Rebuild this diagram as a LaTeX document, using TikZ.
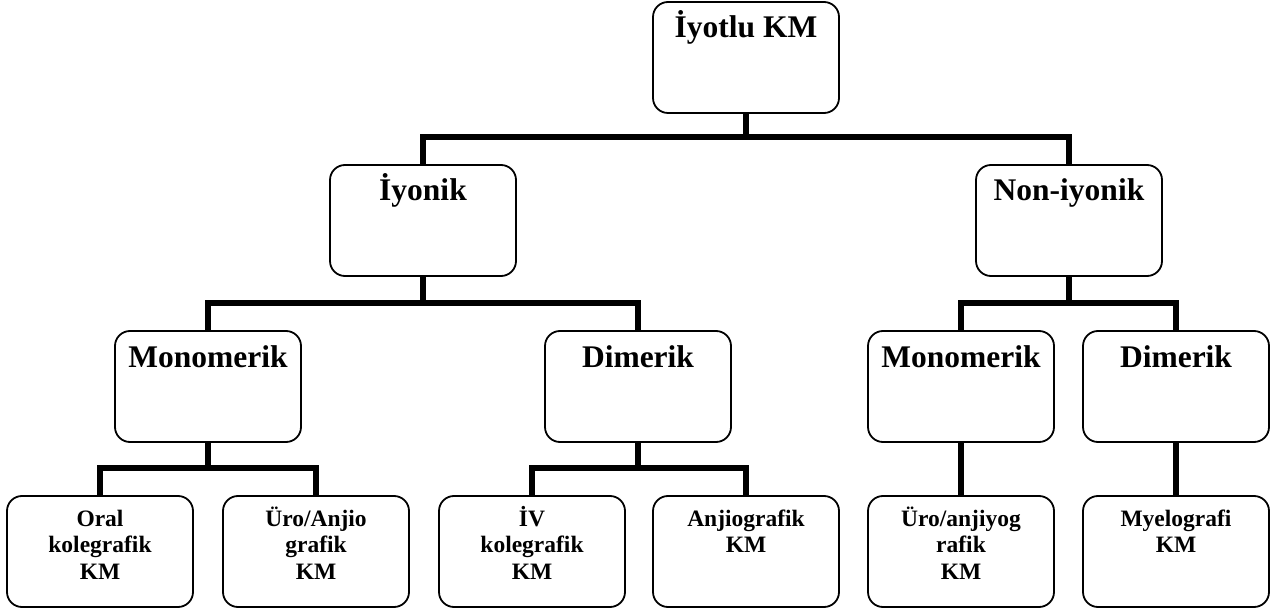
\documentclass[tikz,border=0pt]{standalone}
\usepackage{fontspec}
\setmainfont{Liberation Serif}
\newcommand\upperlabel[1]{\begin{minipage}[t][111pt][t]{186pt}\centering\fontsize{31.5}{35}\selectfont\bfseries\rule{0pt}{36pt}#1\end{minipage}}
\newcommand\lowerlabel[1]{\begin{minipage}[t][111pt][t]{186pt}\centering\fontsize{23.5}{26.5}\selectfont\bfseries\rule{0pt}{30pt}#1\end{minipage}}
\begin{document}
\begin{tikzpicture}[x=1pt,y=-1pt,
  box/.style={draw=black, line width=1.8pt, rounded corners=15pt, inner sep=0pt, outer sep=0pt, anchor=north west},
  conn/.style={draw=black, line width=5.5pt, line join=miter}]
\useasboundingbox (0,0) rectangle (1274,609);
% level 0
\node[box] (top) at (653,2) {\upperlabel{İyotlu KM}};
% level 1
\node[box] (iyonik) at (330,165) {\upperlabel{İyonik}};
\node[box] (noniyonik) at (976,165) {\upperlabel{Non-iyonik}};
% level 2
\node[box] (monoL) at (115,331) {\upperlabel{Monomerik}};
\node[box] (dimL) at (545,331) {\upperlabel{Dimerik}};
\node[box] (monoR) at (868,331) {\upperlabel{Monomerik}};
\node[box] (dimR) at (1083,331) {\upperlabel{Dimerik}};
% level 3
\node[box] (oral) at (7,496) {\lowerlabel{Oral\\kolegrafik\\KM}};
\node[box] (uroL) at (223,496) {\lowerlabel{Üro/Anjio\\grafik\\KM}};
\node[box] (iv) at (439,496) {\lowerlabel{İV\\kolegrafik\\KM}};
\node[box] (anjio) at (653,496) {\lowerlabel{Anjiografik\\KM}};
\node[box] (uroR) at (868,496) {\lowerlabel{Üro/anjiyog\\rafik\\KM}};
\node[box] (myelo) at (1083,496) {\lowerlabel{Myelografi\\KM}};
% bus junctions
\coordinate (j0) at (top.south |- 0,137);
\coordinate (j1) at (iyonik.south |- 0,303);
\coordinate (j2) at (noniyonik.south |- 0,303);
\coordinate (j3) at (monoL.south |- 0,468);
\coordinate (j4) at (dimL.south |- 0,468);
% connectors
\draw[conn] (top.south) -- (j0);
\draw[conn] (j0) -| (iyonik.north);
\draw[conn] (j0) -| (noniyonik.north);
\draw[conn] (iyonik.south) -- (j1);
\draw[conn] (j1) -| (monoL.north);
\draw[conn] (j1) -| (dimL.north);
\draw[conn] (noniyonik.south) -- (j2);
\draw[conn] (j2) -| (monoR.north);
\draw[conn] (j2) -| (dimR.north);
\draw[conn] (monoL.south) -- (j3);
\draw[conn] (j3) -| (oral.north);
\draw[conn] (j3) -| (uroL.north);
\draw[conn] (dimL.south) -- (j4);
\draw[conn] (j4) -| (iv.north);
\draw[conn] (j4) -| (anjio.north);
\draw[conn] (monoR.south) -- (uroR.north);
\draw[conn] (dimR.south) -- (myelo.north);
\end{tikzpicture}
\end{document}
